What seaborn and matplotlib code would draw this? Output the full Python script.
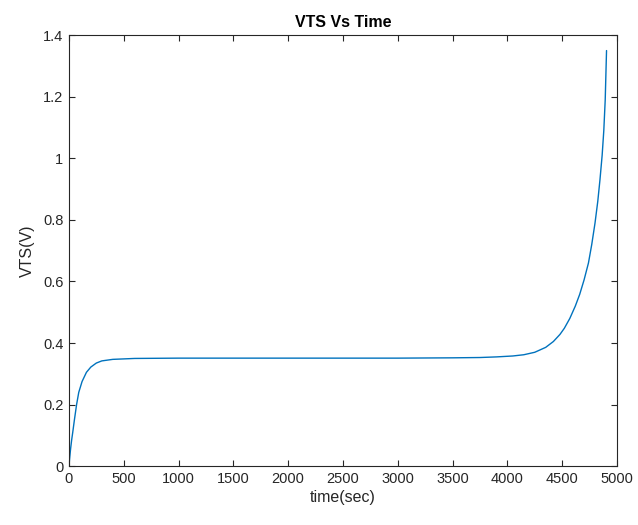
import matplotlib
matplotlib.use("Agg")
import matplotlib.pyplot as plt
import seaborn as sns
import pandas as pd
from matplotlib.ticker import FuncFormatter

# Data
time_sec = [0, 8, 15, 25, 35, 50, 70, 90, 120, 160, 200, 250, 300, 400, 600, 1000,
            1500, 2000, 2500, 3000, 3500, 3750, 3900, 4050, 4150, 4250, 4350, 4420,
            4480, 4520, 4570, 4620, 4660, 4700, 4740, 4770, 4800, 4825, 4845, 4865,
            4880, 4893, 4905]
vts_volts = [0, 0.03, 0.055, 0.085, 0.11, 0.15, 0.2, 0.24, 0.275, 0.305, 0.322, 0.335,
             0.342, 0.347, 0.350, 0.351, 0.351, 0.351, 0.351, 0.351, 0.352, 0.353,
             0.355, 0.358, 0.362, 0.370, 0.386, 0.405, 0.428, 0.448, 0.480, 0.520,
             0.558, 0.605, 0.660, 0.720, 0.790, 0.860, 0.930, 1.010, 1.090, 1.190, 1.35]

x_ticks = [0, 500, 1000, 1500, 2000, 2500, 3000, 3500, 4000, 4500, 5000]
y_ticks = [0, 0.2, 0.4, 0.6, 0.8, 1.0, 1.2, 1.4]

df = pd.DataFrame({"time": time_sec, "vts": vts_volts})

sns.set_style("ticks")
plt.rcParams["font.family"] = ["Liberation Sans", "DejaVu Sans"]
axcol = "#262626"
plt.rcParams.update({
    "axes.edgecolor": axcol,
    "xtick.color": axcol,
    "ytick.color": axcol,
    "axes.labelcolor": axcol,
    "xtick.direction": "in",
    "ytick.direction": "in",
    "axes.linewidth": 0.8,
})

fig = plt.figure(figsize=(6.38, 5.25), dpi=100)
ax = fig.add_axes([0.108, 0.112, 0.859, 0.821])

sns.lineplot(data=df, x="time", y="vts", ax=ax, color="#0072BD", linewidth=1.0)

ax.set_xlim(0, 5000)
ax.set_ylim(0, 1.4)
ax.set_xticks(x_ticks)
ax.set_yticks(y_ticks)
ax.yaxis.set_major_formatter(FuncFormatter(lambda v, p: f"{v:g}"))
ax.tick_params(which="both", top=True, right=True, length=4, width=0.8,
               labelsize=10.5, pad=4)
for s in ax.spines.values():
    s.set_visible(True)
    s.set_color(axcol)

ax.set_xlabel("time(sec)", fontsize=11.5, labelpad=3)
ax.set_ylabel("VTS(V)", fontsize=11.5, labelpad=6)
ax.set_title("VTS Vs Time", fontsize=11.5, fontweight="bold", color="black", pad=6)

fig.savefig("out.png", dpi=100)
